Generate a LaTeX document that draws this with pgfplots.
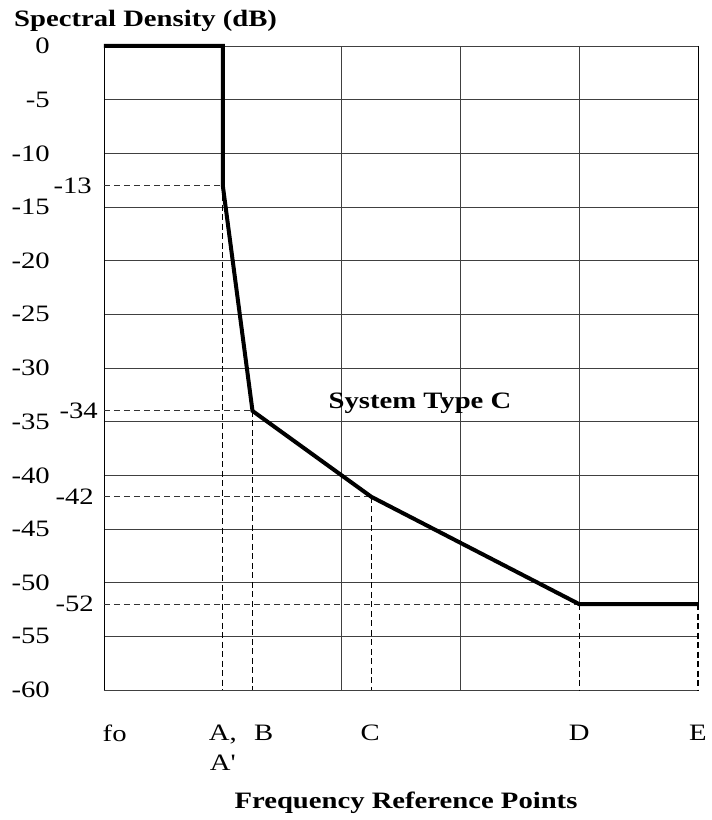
\documentclass[border=0pt]{standalone}
\usepackage{fontspec}
\setmainfont{Liberation Serif}[FakeStretch=1.22, Ligatures=TeXOff]
\usepackage{pgfplots}
\pgfplotsset{compat=1.18}
\newcommand\mainsize{\fontsize{23.5}{30}\selectfont}
\begin{document}
\begin{tikzpicture}
\begin{axis}[name=ax,
  scale only axis, width=594pt, height=644pt,
  xmin=0, xmax=5, ymin=-60, ymax=0,
  clip=false,
  axis line style={draw=none},
  major tick length=0pt, minor tick length=0pt,
  ytick={-60,-55,-50,-45,-40,-35,-30,-25,-20,-15,-10,-5,0},
  yticklabels={-60,-55,-50,-45,-40,-35,-30,-25,-20,-15,-10,-5,0},
  xtick={0.09,1,1.345,2.24,4,5},
  xticklabels={fo,{A,\\A'},B,C,D,E},
  minor xtick={2,3},
  ymajorgrids, xmajorgrids=false, xminorgrids,
  grid style={black!75, line width=0.8pt},
  minor grid style={black!75, line width=0.8pt},
  tick label style={font=\mainsize},
  yticklabel style={anchor=east, inner sep=0pt, xshift=-54pt},
  xticklabel style={anchor=north, inner sep=0pt, yshift=-35pt, align=center},
  xlabel={Frequency Reference Points},
  ylabel={Spectral Density (dB)},
  every axis x label/.style={at={(axis description cs:0.5,0)}, anchor=base,
    inner sep=0pt, xshift=5pt, yshift=-118pt, font=\mainsize\bfseries},
  every axis y label/.style={at={(axis description cs:0,1)}, anchor=base west,
    inner sep=0pt, xshift=-90pt, yshift=19pt, font=\mainsize\bfseries},
  hdash/.style={black!80, line width=1.1pt, dash pattern=on 6pt off 4pt},
  vdash/.style={black, line width=1.1pt, dash pattern=on 6pt off 3.5pt},
]
% borders and partial grid lines
\addplot[black, line width=0.9pt] coordinates {(0,0) (0,-60)};
\addplot[black!75, line width=0.8pt] coordinates {(4,0) (4,-52)};
\addplot[black, line width=0.9pt] coordinates {(5,0) (5,-52)};
% reference lines
\addplot[hdash] coordinates {(0,-13) (1,-13)};
\addplot[hdash] coordinates {(0,-34) (1.25,-34)};
\addplot[hdash] coordinates {(0,-42) (2.25,-42)};
\addplot[hdash] coordinates {(0,-52) (4,-52)};
\addplot[vdash] coordinates {(1,-13) (1,-60)};
\addplot[vdash] coordinates {(1.25,-34) (1.25,-60)};
\addplot[vdash] coordinates {(2.25,-42) (2.25,-60)};
\addplot[vdash] coordinates {(4,-52) (4,-60)};
\addplot[vdash] coordinates {(5,-52) (5,-60)};
% mask
\addplot[black, line width=4pt, line join=miter] coordinates {
  (0,0) (1,0) (1,-13) (1.25,-34) (2.25,-42) (4,-52) (5,-52)};
\node[anchor=east, inner sep=0pt, xshift=-12pt, font=\mainsize] at (axis cs:0,-13) {-13};
\node[anchor=east, inner sep=0pt, xshift=-6pt, font=\mainsize] at (axis cs:0,-34) {-34};
\node[anchor=east, inner sep=0pt, xshift=-10pt, font=\mainsize] at (axis cs:0,-42) {-42};
\node[anchor=east, inner sep=0pt, xshift=-10pt, font=\mainsize] at (axis cs:0,-52) {-52};
\node[anchor=base, inner sep=0pt, font=\mainsize\bfseries] at (axis cs:2.66,-33.8) {System Type C};
\end{axis}
\path ([xshift=-104pt,yshift=-130pt]ax.south west) rectangle ([xshift=13pt,yshift=46pt]ax.north east);
\end{tikzpicture}
\end{document}
